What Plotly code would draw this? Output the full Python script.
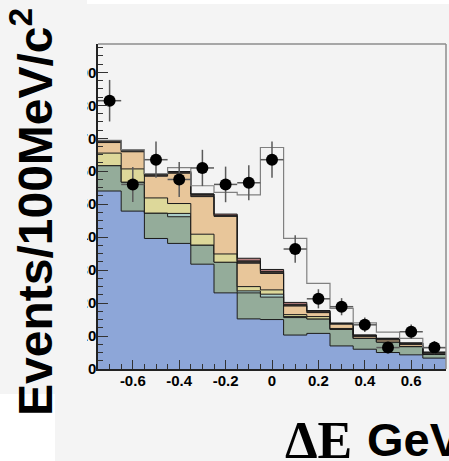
import plotly.graph_objects as go

# ---- data ----
bin_edges = [-0.75, -0.65, -0.55, -0.45, -0.35, -0.25, -0.15, -0.05,
             0.05, 0.15, 0.25, 0.35, 0.45, 0.55, 0.65, 0.75]
bin_centers = [-0.7, -0.6, -0.5, -0.4, -0.3, -0.2, -0.1, 0.0,
               0.1, 0.2, 0.3, 0.4, 0.5, 0.6, 0.7]

blue = [54.0, 47.9, 39.6, 38.1, 31.8, 23.1, 15.2, 15.0, 10.3, 10.8, 7.0, 6.0, 5.0, 4.3, 3.3]
green = [7.7, 8.8, 7.7, 8.1, 5.8, 9.3, 7.9, 6.8, 5.3, 4.4, 5.0, 3.3, 3.2, 2.5, 1.1]
cyan = [0.0, 0.0, 0.0, 1.0, 0.0, 0.0, 0.6, 0.9, 0.3, 0.0, 0.0, 0.0, 0.0, 0.0, 0.0]
yellow = [3.8, 4.0, 4.6, 3.0, 3.3, 2.5, 1.3, 1.3, 0.6, 0.7, 0.3, 0.0, 0.0, 0.0, 0.0]
orange = [3.2, 5.2, 6.6, 9.2, 11.4, 11.4, 7.1, 5.0, 2.6, 1.2, 1.3, 0.5, 0.6, 0.6, 0.2]
dark = [0.6, 0.5, 0.6, 0.5, 0.8, 0.3, 0.7, 0.6, 0.5, 0.6, 0.3, 0.5, 0.5, 0.5, 0.5]
mauve = [0.0, 0.0, 0.0, 0.0, 0.0, 0.4, 0.8, 0.6, 0.6, 0.0, 0.0, 0.0, 0.0, 0.0, 0.0]

total = [69.4, 66.5, 59.3, 61.1, 55.6, 53.6, 52.8, 67.2, 39.6, 26.0, 18.4, 14.0, 11.2, 9.3, 6.5]
data = [81.4, 56.0, 63.5, 57.5, 61.0, 56.0, 56.5, 63.5, 36.4, 21.3, 18.9, 13.4, 6.5, 11.3, 6.5]
data_err = [6.3, 5.3, 5.5, 5.3, 5.5, 5.4, 5.3, 5.5, 4.2, 2.9, 2.6, 2.2, 1.8, 2.2, 2.0]

x_tickvals = [-0.6, -0.4, -0.2, 0.0, 0.2, 0.4, 0.6]
x_ticktext = ["-0.6", "-0.4", "-0.2", "0", "0.2", "0.4", "0.6"]

layers = [blue, green, cyan, yellow, orange, dark, mauve]
layer_colors = ["#8DA6D8", "#94AC9A", "#AACDC8", "#DDD89A", "#E8C69A", "#3E3632", "#B88080"]

W, H = 449, 461
L, R, T, B = 98, 3, 44, 92
PW, PH = W - L - R, H - T - B


def px(p):
    return (p - L) / PW


def py(p):
    return (H - B - p) / PH


fig = go.Figure()

cum = [0.0] * len(bin_centers)
for i, (vals, col) in enumerate(zip(layers, layer_colors)):
    cum = [c + v for c, v in zip(cum, vals)]
    fig.add_trace(go.Scatter(
        x=bin_edges, y=cum + [cum[-1]], mode="lines",
        line=dict(shape="hv", color="#1a1a1a", width=1),
        fill="tozeroy" if i == 0 else "tonexty", fillcolor=col,
        hoverinfo="skip", showlegend=False))

fig.add_trace(go.Scatter(
    x=bin_edges, y=total + [total[-1]], mode="lines",
    line=dict(shape="hv", color="#808080", width=1.2),
    hoverinfo="skip", showlegend=False))

fig.add_trace(go.Scatter(
    x=bin_centers, y=data, mode="markers",
    marker=dict(color="black", size=12),
    error_y=dict(type="data", array=data_err, color="#5a5a5a", thickness=1.5, width=0),
    error_x=dict(type="constant", value=0.05, color="#5a5a5a", thickness=1.5, width=0),
    showlegend=False))

tickfont = dict(family="Liberation Sans, Arial, sans-serif", size=15, color="black", weight="bold")

fig.update_layout(
    width=W, height=H, autosize=False,
    margin=dict(l=L, r=R, t=T, b=B),
    paper_bgcolor="#f4f4f4", plot_bgcolor="#f3f3f3",
    xaxis=dict(range=[-0.75, 0.75], tickvals=x_tickvals, ticktext=x_ticktext,
               ticks="inside", ticklen=9, tickwidth=1, tickcolor="#333",
               minor=dict(dtick=0.05, ticks="inside", ticklen=5, tickcolor="#333"),
               showgrid=False, zeroline=False, showline=True, linecolor="#222", linewidth=1.5,
               tickfont=tickfont, ticklabelstandoff=-3),
    yaxis=dict(range=[0, 98.6], dtick=10, tick0=0,
               ticks="inside", ticklen=10, tickwidth=1, tickcolor="#333",
               minor=dict(dtick=2.5, ticks="inside", ticklen=5, tickcolor="#333"),
               showgrid=False, zeroline=False, showline=True, linecolor="#222", linewidth=1.5,
               tickfont=dict(family="Liberation Sans, Arial, sans-serif", size=15, color="black", weight="bold"),
               ticklabelstandoff=-3),
    shapes=[
        dict(type="line", xref="x domain", yref="y domain", x0=0, x1=1, y0=1, y1=1,
             line=dict(color="#8c8c8c", width=1.5)),
        dict(type="line", xref="x domain", yref="y domain", x0=1, x1=1, y0=0, y1=1,
             line=dict(color="#8c8c8c", width=1.5)),
        # panel that hides the leading digits of the y labels
        dict(type="rect", xref="paper", yref="paper", x0=px(-5), x1=px(87), y0=py(394), y1=py(-5),
             fillcolor="#f4f4f4", line=dict(width=0), layer="above"),
        dict(type="rect", xref="paper", yref="paper", x0=px(87), x1=px(455), y0=py(4), y1=py(-5),
             fillcolor="white", line=dict(width=0), layer="above"),
        dict(type="rect", xref="paper", yref="paper", x0=px(-5), x1=px(55), y0=py(470), y1=py(394),
             fillcolor="white", line=dict(width=0), layer="above"),
    ],
    annotations=[
        dict(text="Events/100MeV/c<sup>2</sup>", textangle=-90, xref="paper", yref="paper",
             x=px(32), y=py(212), xanchor="center", yanchor="middle", showarrow=False,
             font=dict(family="Liberation Sans, Arial, sans-serif", size=48, color="black", weight="bold")),
        dict(text="ΔE", xref="paper", yref="paper", x=px(283), y=py(440),
             xanchor="left", yanchor="middle", showarrow=False,
             font=dict(family="Liberation Serif, Times New Roman, serif", size=52, color="black", weight="bold")),
        dict(text="GeV", xref="paper", yref="paper", x=px(365), y=py(439),
             xanchor="left", yanchor="middle", showarrow=False,
             font=dict(family="Liberation Sans, Arial, sans-serif", size=47, color="black", weight="bold")),
    ],
)

fig.write_html("out.html")
